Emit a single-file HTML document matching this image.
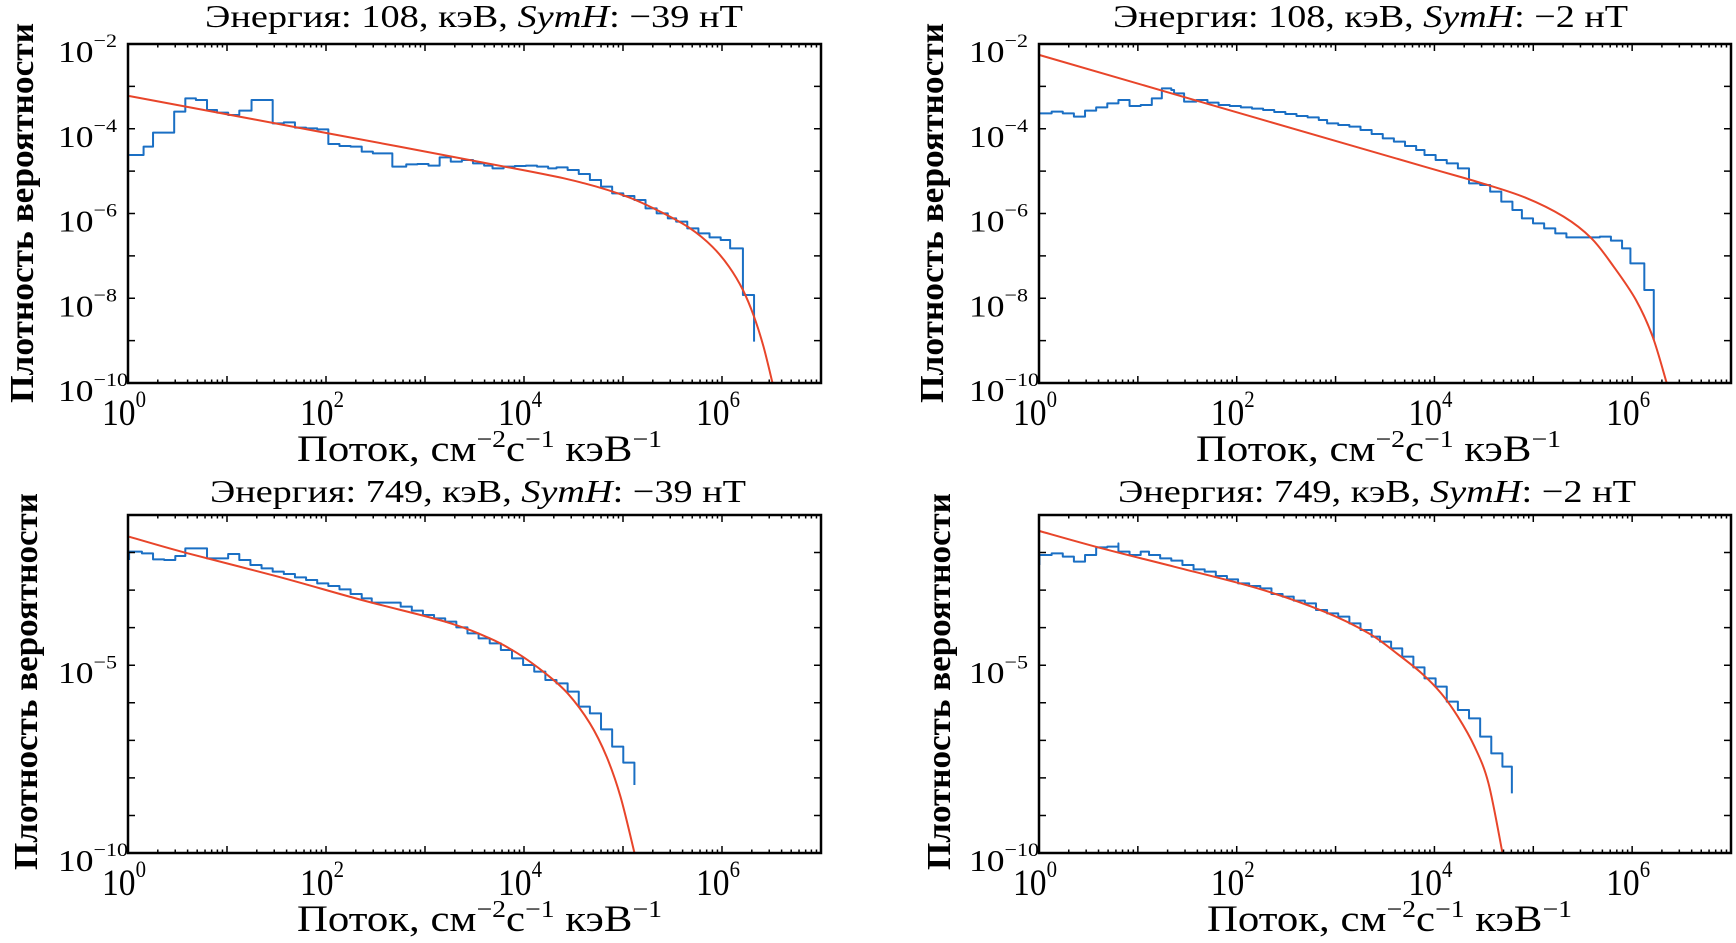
<!DOCTYPE html>
<html><head><meta charset="utf-8"><style>
html,body{margin:0;padding:0;background:#fff}
svg{display:block}
text{font-family:"Liberation Serif","Times New Roman",serif;fill:#000}
</style></head><body>
<svg id="s" width="1736" height="943" viewBox="0 0 1736 943" xmlns="http://www.w3.org/2000/svg">
<g fill="none" stroke-linejoin="round">
<!-- TL -->
<g transform="translate(0,0) scale(0.5565,0.33333)">
<path vector-effect="non-scaling-stroke" stroke="#1a6fc4" stroke-width="2" d="M232,465 H258 V440 H275 V398 H313 V335 H333 V295 H352 V300 H372 V330 H390 V338 H410 V345 H430 V332 H452 V300 H490 V370 H510 V367 H530 V383 H550 V385 H570 V388 H590 V432 H610 V438 H630 V440 H650 V455 H670 V460 H705 V500 H730 V493 H750 V492 H770 V497 H790 V472 H810 V485 H830 V480 H850 V490 H870 V497 H885 V505 H905 V500 H925 V498 H945 V497 H965 V500 H985 V505 H1000 V502 H1020 V510 H1040 V522 H1060 V540 H1080 V560 H1100 V580 H1120 V588 H1140 V600 H1160 V625 H1180 V640 H1200 V655 H1215 V665 H1235 V685 H1255 V700 H1275 V712 H1295 V720 H1312 V745 H1335 V885 H1355 V1025"/>
<path class="red" data-p="232,288 590,400 945,512 1050,550 1130,592 1190,638 1240,685 1280,740 1310,800 1335,870 1355,950 1372,1040 1388,1148" vector-effect="non-scaling-stroke" stroke="#e8452a" stroke-width="2"/>
</g>
<!-- TR -->
<g transform="translate(868,0) scale(0.5565,0.33333)">
<path vector-effect="non-scaling-stroke" stroke="#1a6fc4" stroke-width="2" d="M308,340 H330 V335 H350 V340 H370 V350 H390 V332 H410 V322 H430 V310 H450 V300 H465 V300 H470 V318 H490 V315 H510 V295 H528 V265 H545 V270 H550 V280 H568 V305 H590 V300 H610 V308 H630 V315 H650 V318 H670 V322 H690 V326 H710 V330 H730 V336 H750 V342 H770 V348 H790 V352 H810 V360 H825 V370 H845 V375 H865 V380 H885 V390 H905 V402 H925 V415 H945 V425 H965 V438 H985 V450 H1000 V465 H1020 V480 H1040 V490 H1060 V505 H1080 V550 H1100 V555 H1118 V575 H1138 V605 H1158 V630 H1175 V655 H1195 V670 H1215 V685 H1235 V700 H1255 V712 H1295 V712 H1315 V710 H1335 V722 H1355 V745 H1370 V790 H1395 V870 H1412 V1020"/>
<path class="red" data-p="308,165 700,355 1000,500 1100,548 1180,592 1250,650 1300,715 1340,800 1380,900 1410,1010 1435,1148" vector-effect="non-scaling-stroke" stroke="#e8452a" stroke-width="2"/>
</g>
<!-- BL -->
<g transform="translate(0,470) scale(0.5565,0.33333)">
<path vector-effect="non-scaling-stroke" stroke="#1a6fc4" stroke-width="2" d="M232,270 V245 H255 V250 H275 V268 H295 V270 H315 V258 H333 V235 H372 V265 H410 V252 H430 V270 H450 V285 H470 V295 H490 V305 H510 V312 H530 V322 H550 V330 H570 V340 H590 V348 H610 V358 H630 V372 H650 V385 H668 V398 H720 V410 H740 V422 H760 V435 H780 V445 H800 V455 H820 V472 H840 V490 H860 V505 H880 V520 H900 V540 H920 V565 H940 V585 H960 V605 H980 V630 H1000 V640 H1020 V665 H1040 V710 H1060 V730 H1080 V778 H1100 V830 H1120 V878 H1140 V945"/>
<path class="red" data-p="232,200 333,248 500,320 650,390 800,455 880,505 930,550 980,610 1020,670 1060,760 1090,860 1115,980 1140,1148" vector-effect="non-scaling-stroke" stroke="#e8452a" stroke-width="2"/>
</g>
<!-- BR -->
<g transform="translate(868,470) scale(0.5565,0.33333)">
<path vector-effect="non-scaling-stroke" stroke="#1a6fc4" stroke-width="2" d="M308,285 V255 H330 V250 H350 V260 H370 V275 H390 V255 H410 V232 H430 V230 H450 V220 V245 H470 V255 H490 V245 H505 V255 H525 V265 H545 V272 H565 V285 H585 V298 H605 V305 H625 V318 H645 V328 H665 V340 H685 V348 H705 V355 H725 V372 H745 V380 H765 V392 H785 V400 H805 V420 H825 V430 H845 V440 H865 V460 H885 V480 H905 V500 H920 V515 H940 V535 H960 V560 H980 V592 H1000 V625 H1020 V650 H1040 V695 H1060 V720 H1080 V745 H1100 V800 H1120 V850 H1140 V890 H1157 V970"/>
<path class="red" data-p="308,183 420,235 550,290 700,355 820,425 900,490 950,550 995,610 1030,670 1060,740 1090,830 1115,940 1140,1148" vector-effect="non-scaling-stroke" stroke="#e8452a" stroke-width="2"/>
</g>
</g>
<g id="ax"></g>

<!-- titles -->
<text x="205" y="27" font-size="32" textLength="538" lengthAdjust="spacingAndGlyphs">Энергия: 108, кэВ, <tspan font-style="italic">SymH</tspan>: −39 нТ</text>
<text x="1113" y="27" font-size="32" textLength="515" lengthAdjust="spacingAndGlyphs">Энергия: 108, кэВ, <tspan font-style="italic">SymH</tspan>: −2 нТ</text>
<text x="210" y="502" font-size="32" textLength="536" lengthAdjust="spacingAndGlyphs">Энергия: 749, кэВ, <tspan font-style="italic">SymH</tspan>: −39 нТ</text>
<text x="1118" y="502" font-size="32" textLength="518" lengthAdjust="spacingAndGlyphs">Энергия: 749, кэВ, <tspan font-style="italic">SymH</tspan>: −2 нТ</text>

<!-- x labels -->
<text x="297" y="461" font-size="37" textLength="365" lengthAdjust="spacingAndGlyphs">Поток, см<tspan dy="-14" font-size="24">−2</tspan><tspan dy="14">с</tspan><tspan dy="-14" font-size="24">−1</tspan><tspan dy="14"> кэВ</tspan><tspan dy="-14" font-size="24">−1</tspan></text>
<text x="1196" y="461" font-size="37" textLength="365" lengthAdjust="spacingAndGlyphs">Поток, см<tspan dy="-14" font-size="24">−2</tspan><tspan dy="14">с</tspan><tspan dy="-14" font-size="24">−1</tspan><tspan dy="14"> кэВ</tspan><tspan dy="-14" font-size="24">−1</tspan></text>
<text x="297" y="931" font-size="37" textLength="365" lengthAdjust="spacingAndGlyphs">Поток, см<tspan dy="-14" font-size="24">−2</tspan><tspan dy="14">с</tspan><tspan dy="-14" font-size="24">−1</tspan><tspan dy="14"> кэВ</tspan><tspan dy="-14" font-size="24">−1</tspan></text>
<text x="1207" y="931" font-size="37" textLength="365" lengthAdjust="spacingAndGlyphs">Поток, см<tspan dy="-14" font-size="24">−2</tspan><tspan dy="14">с</tspan><tspan dy="-14" font-size="24">−1</tspan><tspan dy="14"> кэВ</tspan><tspan dy="-14" font-size="24">−1</tspan></text>

<!-- y labels -->
<text transform="translate(33,403) rotate(-90)" font-size="34" font-weight="bold" textLength="380" lengthAdjust="spacingAndGlyphs">Плотность вероятности</text>
<text transform="translate(943,403) rotate(-90)" font-size="34" font-weight="bold" textLength="380" lengthAdjust="spacingAndGlyphs">Плотность вероятности</text>
<text transform="translate(37,870) rotate(-90)" font-size="34" font-weight="bold" textLength="377" lengthAdjust="spacingAndGlyphs">Плотность вероятности</text>
<text transform="translate(950,870) rotate(-90)" font-size="34" font-weight="bold" textLength="377" lengthAdjust="spacingAndGlyphs">Плотность вероятности</text>
</svg>
<script>
(function(){
var NS="http://www.w3.org/2000/svg",ax=document.getElementById("ax");
// smooth red curves (Catmull-Rom)
Array.prototype.forEach.call(document.querySelectorAll("path.red"),function(p){
 var pts=p.getAttribute("data-p").split(" ").map(function(s){return s.split(",").map(Number);});
 var d="M"+pts[0][0]+","+pts[0][1];
 for(var i=0;i<pts.length-1;i++){
  var p0=pts[i-1]||pts[i],p1=pts[i],p2=pts[i+1],p3=pts[i+2]||p2;
  var c1=[p1[0]+(p2[0]-p0[0])/6,p1[1]+(p2[1]-p0[1])/6],c2=[p2[0]-(p3[0]-p1[0])/6,p2[1]-(p3[1]-p1[1])/6];
  d+="C"+c1[0]+","+c1[1]+" "+c2[0]+","+c2[1]+" "+p2[0]+","+p2[1];
 }
 p.setAttribute("d",d);
});
function el(t,a,txt){var e=document.createElementNS(NS,t);for(var k in a)e.setAttribute(k,a[k]);if(txt!=null)e.textContent=txt;ax.appendChild(e);return e;}
function lbl(x,y,exp,fs,len){
 var t=document.createElementNS(NS,"text");t.setAttribute("x",x);t.setAttribute("y",y);t.setAttribute("font-size",fs);
 t.setAttribute("textLength",len);t.setAttribute("lengthAdjust","spacingAndGlyphs");
 t.appendChild(document.createTextNode("10"));
 var s=document.createElementNS(NS,"tspan");s.setAttribute("dy",-fs*0.48);s.setAttribute("font-size",fs*0.62);s.textContent=exp;t.appendChild(s);
 ax.appendChild(t);
}
var panels=[
 {x0:128,x1:821,y0:44,y1:383,ymin:-10,ymax:-2,yl:[-2,-4,-6,-8,-10]},
 {x0:1039,x1:1731,y0:44,y1:383,ymin:-10,ymax:-2,yl:[-2,-4,-6,-8,-10]},
 {x0:128,x1:821,y0:515,y1:853,ymin:-10,ymax:-1,yl:[-5,-10]},
 {x0:1039,x1:1731,y0:515,y1:853,ymin:-10,ymax:-1,yl:[-5,-10]}
];
panels.forEach(function(p){
 var d="",dx=(p.x1-p.x0)/7,dy=(p.y1-p.y0)/(p.ymax-p.ymin);
 for(var dec=0;dec<7;dec++){for(var m=1;m<10;m++){var x=p.x0+(dec+Math.log10(m))*dx;if(x>p.x1-1)continue;var L=m==1?7:3.5;
  d+="M"+x+","+p.y1+"v-"+L+"M"+x+","+p.y0+"v"+L;}}
 for(var e=p.ymin+1;e<p.ymax;e++){var y=p.y1-(e-p.ymin)*dy;d+="M"+p.x0+","+y+"h7M"+p.x1+","+y+"h-7";}
 el("path",{d:d,stroke:"#000","stroke-width":1.5,fill:"none"});
 el("rect",{x:p.x0,y:p.y0,width:p.x1-p.x0,height:p.y1-p.y0,fill:"none",stroke:"#000","stroke-width":2.5});
 [0,2,4,6].forEach(function(e){lbl(p.x0+e*dx-26,p.y1+42,String(e),37,44);});
 p.yl.forEach(function(e){var y=p.y1-(e-p.ymin)*dy;var s=String(e).replace("-","−");lbl(p.x0-70,y+18,s,31,e<=-10?70:59);});
});
})();
</script>
</body></html>
